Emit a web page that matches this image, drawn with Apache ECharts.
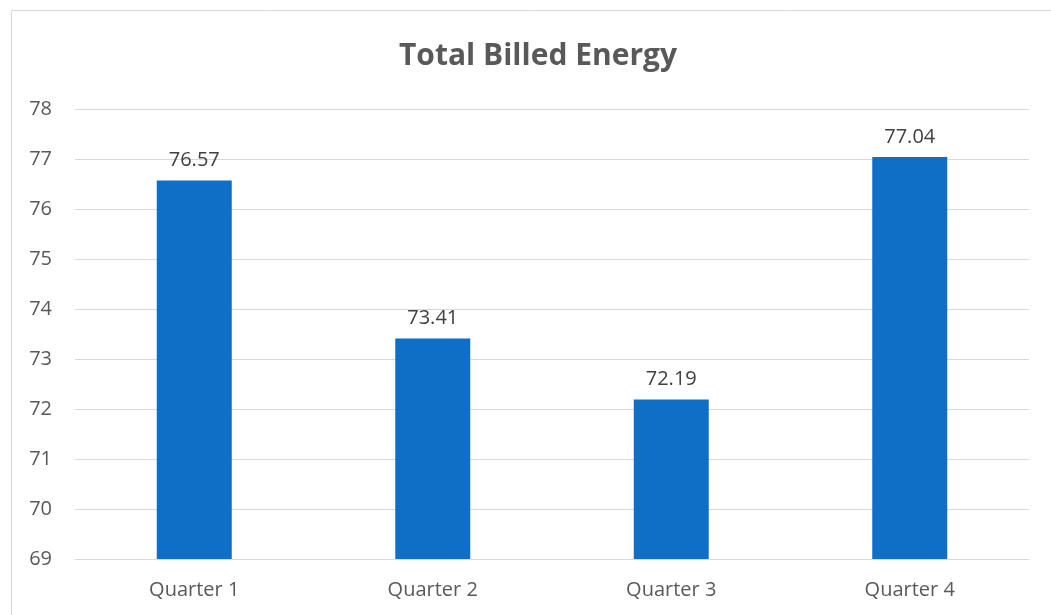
<!DOCTYPE html>
<html>
<head>
<meta charset="utf-8">
<script src="https://cdn.jsdelivr.net/npm/echarts@6/dist/echarts.min.js"></script>
<style>
  html, body { margin: 0; padding: 0; background: #fff; }
  #chart { width: 1051px; height: 615px; }
</style>
</head>
<body>
<div id="chart"></div>
<script>
var quarters = ['Quarter 1', 'Quarter 2', 'Quarter 3', 'Quarter 4'];
var billedEnergy = [76.57, 73.41, 72.19, 77.04];

var chart = echarts.init(document.getElementById('chart'));
var font = '"Open Sans", "Noto Sans", sans-serif';

var option = {
    animation: false,
    title: {
        text: 'Total Billed Energy',
        left: 394,
        top: 36,
        textStyle: {
            fontFamily: font,
            fontWeight: 'bold',
            fontSize: 30,
            color: '#595959'
        }
    },
    graphic: [{
        type: 'rect',
        shape: { x: 11.5, y: 10.5, width: 1100, height: 700 },
        style: { fill: 'none', stroke: '#d9d9d9', lineWidth: 1 },
        silent: true
    }],
    grid: {
        left: 75,
        right: 22,
        top: 109,
        bottom: 56
    },
    xAxis: {
        type: 'category',
        data: quarters,
        axisTick: { show: false },
        axisLine: { lineStyle: { color: '#d9d9d9', width: 1 } },
        axisLabel: {
            margin: 21,
            fontFamily: font,
            fontSize: 20,
            color: '#595959'
        }
    },
    yAxis: {
        type: 'value',
        min: 69,
        max: 78,
        interval: 1,
        axisLine: { show: false },
        axisTick: { show: false },
        splitLine: { lineStyle: { color: '#d9d9d9', width: 1 } },
        axisLabel: {
            margin: 23,
            fontFamily: font,
            fontSize: 20,
            color: '#595959'
        }
    },
    series: [{
        type: 'bar',
        data: billedEnergy,
        barWidth: 75,
        itemStyle: { color: '#0f6fc6' },
        label: {
            show: true,
            position: 'top',
            distance: 10,
            fontFamily: font,
            fontSize: 20,
            color: '#404040',
            formatter: function (p) { return p.value.toFixed(2); }
        }
    }]
};
chart.setOption(option);
</script>
</body>
</html>
